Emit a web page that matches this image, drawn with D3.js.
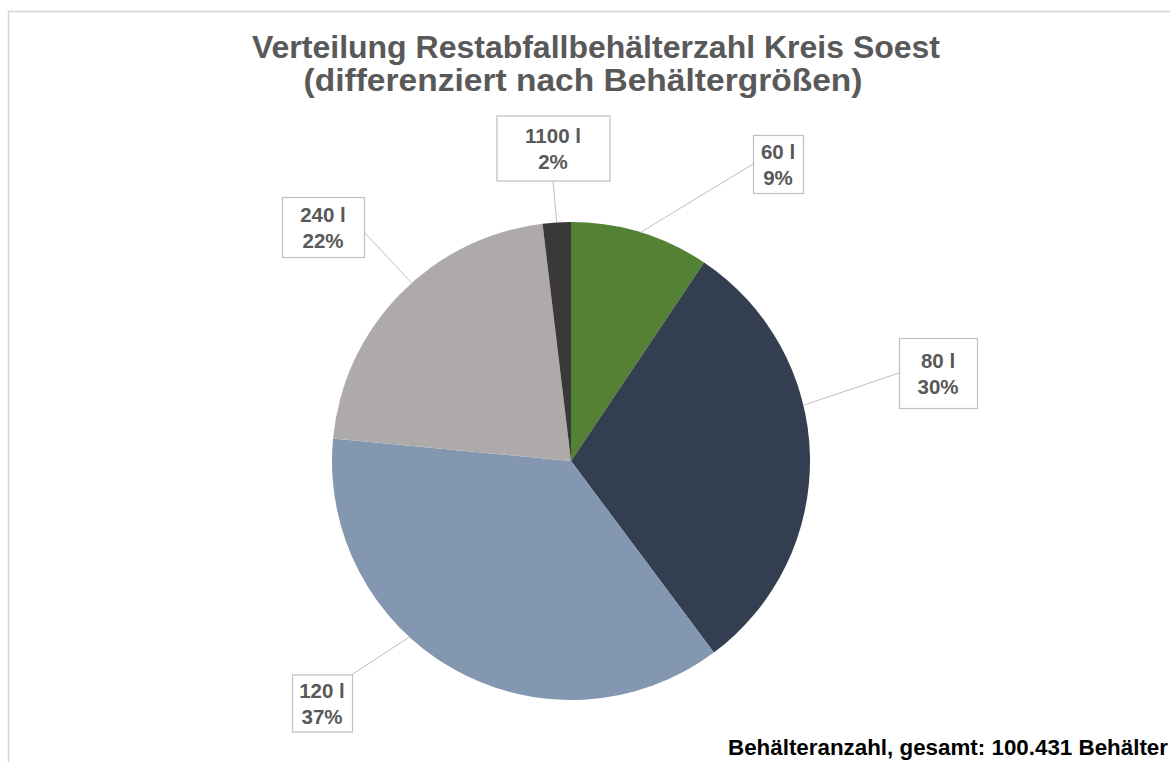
<!DOCTYPE html>
<html>
<head>
<meta charset="utf-8">
<script src="https://cdn.jsdelivr.net/npm/d3@7"></script>
<style>
  html, body { margin: 0; padding: 0; background: #fff; }
  svg { display: block; font-family: "Liberation Sans", Arial, sans-serif; }
</style>
</head>
<body>
<div id="chart"></div>
<script>
// chart data (shares in percent)
var sizes = ["60 l", "80 l", "120 l", "240 l", "1100 l"];
var shares = [9.4, 30.4, 36.7, 21.6, 1.9];
var colors = ["#548235", "#333f50", "#8497b0", "#aeaaaa", "#3b3838"];
var titleLines = ["Verteilung Restabfallbehälterzahl Kreis Soest", "(differenziert nach Behältergrößen)"];
var footnote = "Behälteranzahl, gesamt: 100.431 Behälter";

var width = 1170,
    height = 762;

// label boxes (layout only): centre, size, where the leader meets the slice and the box
var labelBoxes = [
  {cx: 778, cy: 164, w: 50, h: 58, t: 0.5, side: "left"},
  {cx: 938, cy: 373, w: 78, h: 70, t: 0.39, side: "left"},
  {cx: 322, cy: 703, w: 60, h: 57, t: 0.6, side: "topright"},
  {cx: 323, cy: 227, w: 82, h: 60, t: 0.55, side: "right"},
  {cx: 553, cy: 148, w: 113, h: 65, t: 0.5, side: "bottom"}
];

var svg = d3.select("#chart").append("svg")
    .attr("width", width)
    .attr("height", height);

// chart frame
svg.append("rect")
    .attr("x", 8.5).attr("y", 11.5)
    .attr("width", width).attr("height", height)
    .attr("fill", "#fff")
    .attr("stroke", "#d4d4d4")
    .attr("stroke-width", 1.5);

// title
var titlePos = [{x: 596, y: 58, len: 688}, {x: 583, y: 91, len: 559}];
svg.selectAll(".title")
    .data(titleLines)
    .enter().append("text")
    .attr("class", "title")
    .attr("x", function(d, i) { return titlePos[i].x; })
    .attr("y", function(d, i) { return titlePos[i].y; })
    .attr("text-anchor", "middle")
    .attr("font-size", 32)
    .attr("font-weight", "bold")
    .attr("fill", "#595959")
    .attr("textLength", function(d, i) { return titlePos[i].len; })
    .attr("lengthAdjust", "spacingAndGlyphs")
    .text(function(d) { return d; });

// pie
var cx = 571, cy = 461, radius = 239;
var data = sizes.map(function(s, i) { return {size: s, value: shares[i], color: colors[i]}; });
var total = d3.sum(shares);

var pie = d3.pie()
    .sort(null)
    .value(function(d) { return d.value; });
var arc = d3.arc().innerRadius(0).outerRadius(radius);
var arcs = pie(data);

var g = svg.append("g")
    .attr("transform", "translate(" + cx + "," + cy + ")");

g.selectAll("path")
    .data(arcs)
    .enter().append("path")
    .attr("d", arc)
    .attr("fill", function(d) { return d.data.color; });

// leader lines and label boxes
var fmt = d3.format(".0%");
arcs.forEach(function(a, i) {
  var box = labelBoxes[i];
  var ang = a.startAngle + (a.endAngle - a.startAngle) * box.t;
  var px = cx + radius * Math.sin(ang),
      py = cy - radius * Math.cos(ang);
  var x0 = box.cx - box.w / 2, x1 = box.cx + box.w / 2,
      y0 = box.cy - box.h / 2, y1 = box.cy + box.h / 2;
  var ex, ey;
  if (box.side === "left") { ex = x0; ey = box.cy; }
  else if (box.side === "right") { ex = x1; ey = box.cy + 5; }
  else if (box.side === "bottom") { ex = box.cx; ey = y1; }
  else { ex = x1; ey = y0; }

  svg.append("line")
      .attr("x1", ex).attr("y1", ey)
      .attr("x2", px).attr("y2", py)
      .attr("stroke", "#bfbfbf")
      .attr("stroke-width", 1);

  svg.append("rect")
      .attr("x", x0 + 0.5).attr("y", y0 + 0.5)
      .attr("width", box.w).attr("height", box.h)
      .attr("fill", "#fff")
      .attr("stroke", "#bfbfbf")
      .attr("stroke-width", 1.2);

  var lbl = svg.append("text")
      .attr("text-anchor", "middle")
      .attr("font-size", 20.5)
      .attr("font-weight", "bold")
      .attr("fill", "#595959");
  lbl.append("tspan")
      .attr("x", box.cx).attr("y", box.cy - 5)
      .text(a.data.size);
  lbl.append("tspan")
      .attr("x", box.cx).attr("y", box.cy + 21)
      .text(fmt(a.data.value / total));
});

// footnote
svg.append("text")
    .attr("x", 1168)
    .attr("y", 755)
    .attr("text-anchor", "end")
    .attr("font-size", 22)
    .attr("font-weight", "bold")
    .attr("fill", "#000")
    .attr("textLength", 440)
    .attr("lengthAdjust", "spacingAndGlyphs")
    .text(footnote);
</script>
</body>
</html>
